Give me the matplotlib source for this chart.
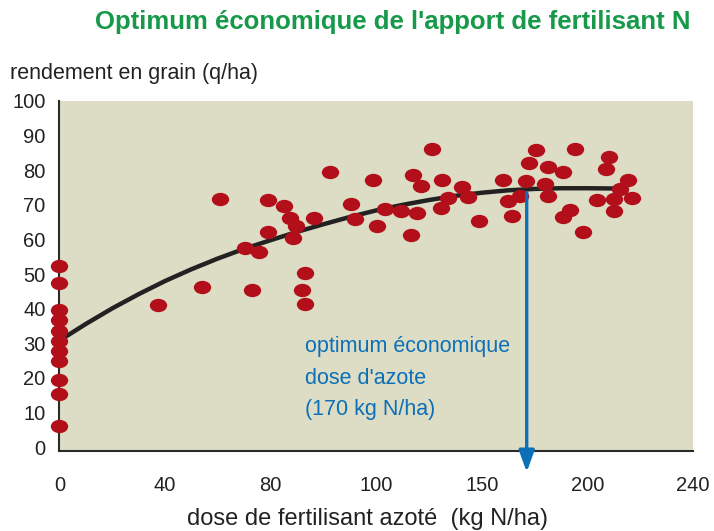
import numpy as np
import matplotlib.pyplot as plt
from matplotlib.path import Path

plt.rcParams['font.family'] = ['Liberation Sans', 'DejaVu Sans']

# yield observations (x in axis units, y in q/ha)
x_pts = [0, 0, 0, 0, 0, 0, 0, 0, 0, 0, 0,
         37.3, 53.9, 60.8, 70.3, 75.7, 72.8, 79.1, 79.1, 84.9, 87.4,
         89.6, 88.6, 93.0, 91.7, 93.0, 96.5, 102.5, 110.4, 111.9,
         118.9, 120.4, 123.3, 129.4, 133.1, 134.0, 135.5, 136.9, 141.1,
         144.5, 145.1, 147.3, 152.5, 154.6, 158.8, 168.1, 169.8, 171.4,
         174.4, 176.6, 178.0, 180.7, 184.0, 185.0, 185.0, 190.8, 193.4,
         190.8, 195.3, 198.4, 203.7, 206.9, 208.3, 210.0, 210.0, 212.3,
         215.2, 217.0]
y_pts = [52.3, 47.5, 39.7, 36.6, 33.7, 30.8, 27.7, 24.8, 19.5, 15.4, 6.0,
         41.2, 46.2, 71.6, 57.4, 56.4, 45.4, 71.3, 62.1, 69.8, 66.1,
         63.8, 60.5, 50.2, 45.5, 41.3, 66.1, 79.6, 70.2, 65.8,
         77.1, 63.8, 68.9, 68.2, 61.4, 78.5, 67.7, 75.4, 86.2,
         69.0, 77.1, 72.0, 75.2, 72.3, 65.3, 77.1, 71.1, 66.9,
         72.5, 76.8, 82.2, 85.8, 76.1, 80.9, 72.7, 79.5, 68.5,
         66.5, 86.2, 62.2, 71.4, 80.4, 83.8, 68.2, 71.6, 74.5,
         77.1, 72.0]

# response curve
curve_x = [0, 10, 20, 30, 40, 50, 60, 70, 80, 90, 100, 110, 120, 130,
           140, 150, 160, 170, 180, 190, 200, 214]
curve_y = [30.8, 35.6, 40.1, 44.2, 48.0, 51.4, 54.5, 57.3, 59.8, 62.2,
           64.4, 66.5, 68.4, 70.0, 71.4, 72.6, 73.5, 74.2, 74.6, 74.8,
           74.8, 74.7]

x_ticks = [0, 40, 80, 120, 160, 200, 240]
x_labels = ['0', '40', '80', '100', '150', '200', '240']
y_ticks = [0, 10, 20, 30, 40, 50, 60, 70, 80, 90, 100]

opt_x = 177
opt_label = ["optimum économique", "dose d'azote", "(170 kg N/ha)"]

fig = plt.figure(figsize=(7.14, 5.31), dpi=100)
ax = fig.add_axes([0.0833, 0.1507, 0.8873, 0.6591])
ax.set_facecolor('#dddcc4')

# elliptic markers
circ = Path.unit_circle()
ell = Path(circ.vertices * [1.3, 1.0], circ.codes)

ax.plot(curve_x, curve_y, color='#222222', lw=3.2, solid_capstyle='butt', zorder=4)
ax.plot(x_pts, y_pts, ls='none', marker=ell, ms=12.5, color='#b30f1b',
        mec='none', clip_on=False, zorder=5)

ax.annotate('', xy=(opt_x, -7.2), xytext=(opt_x, 73.5),
            arrowprops=dict(arrowstyle='-|>,head_width=0.47,head_length=1.3',
                            color='#0b70b8', lw=2.4, shrinkA=0, shrinkB=0),
            annotation_clip=False, zorder=6)

for i, line in enumerate(opt_label):
    ax.text(93, 29.0 - i * 9.1, line, color='#0b70b8', fontsize=15.5,
            va='center', ha='left')

ax.set_xlim(0, 240)
ax.set_ylim(-1.1, 100)
ax.set_xticks(x_ticks)
ax.set_xticklabels(x_labels)
ax.set_yticks(y_ticks)
ax.tick_params(length=0, labelsize=14.5, colors='#222222')
ax.tick_params(axis='x', pad=18)
ax.tick_params(axis='y', pad=10)
for s in ['top', 'right']:
    ax.spines[s].set_visible(False)
for s in ['left', 'bottom']:
    ax.spines[s].set_color('#2a2a2a')
    ax.spines[s].set_linewidth(1.5)

ax.set_xlabel('dose de fertilisant azoté  (kg N/ha)', fontsize=17,
              color='#222222')
ax.xaxis.set_label_coords(0.486, -0.162)

fig.text(0.55, 0.958, "Optimum économique de l'apport de fertilisant N",
         ha='center', va='center', fontsize=18.5, fontweight='bold', color='#17994a')
fig.text(0.014, 0.862, 'rendement en grain (q/ha)', ha='left', va='center',
         fontsize=15.5, color='#222222')

fig.savefig('out.png', dpi=100)
